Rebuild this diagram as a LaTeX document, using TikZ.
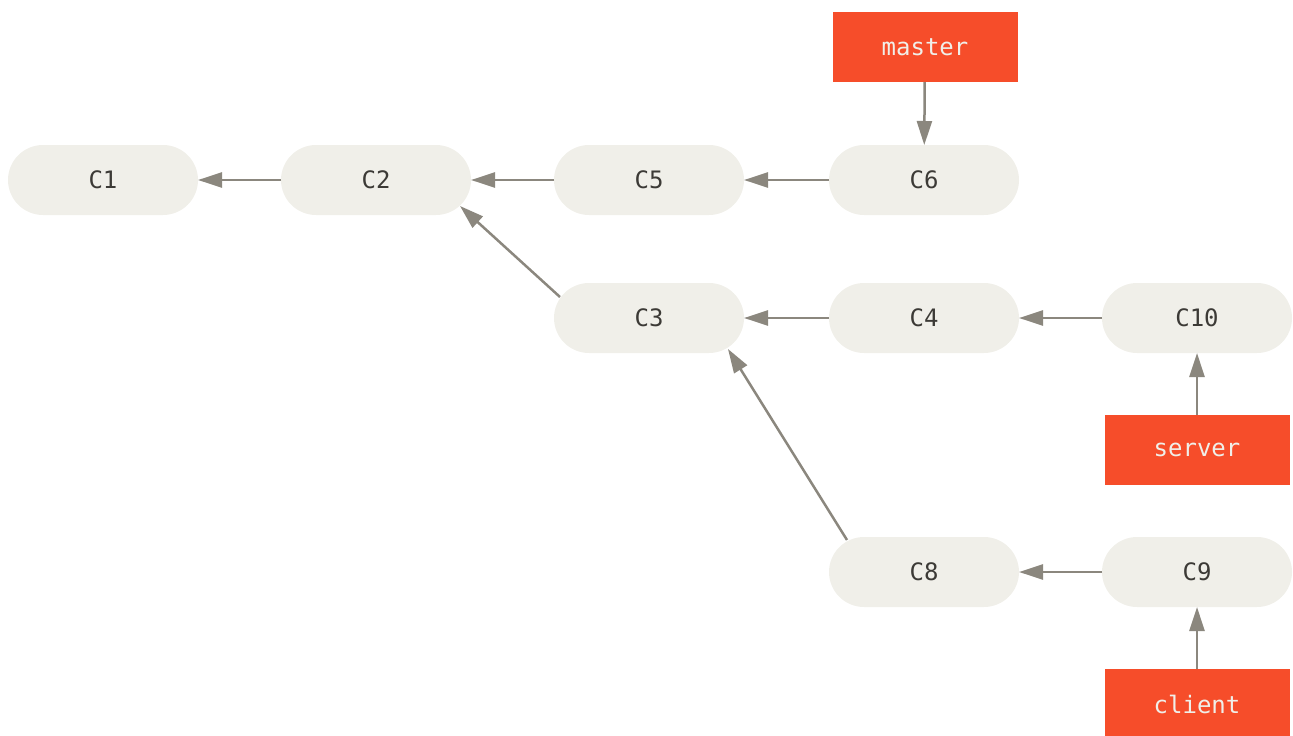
\documentclass[tikz,border=0pt]{standalone}
\usepackage{fontspec}
\setmonofont{DejaVu Sans Mono}
\usetikzlibrary{arrows.meta}
\definecolor{commitfill}{HTML}{F0EFE9}
\definecolor{committext}{HTML}{3C3A36}
\definecolor{reffill}{HTML}{F64D2A}
\definecolor{reftext}{HTML}{F0EFE9}
\definecolor{arrowgray}{HTML}{8B877E}
\tikzset{
  commit/.style={rectangle, rounded corners=35pt, fill=commitfill, text=committext,
    minimum width=190pt, minimum height=70pt, inner sep=0pt, outer sep=0pt,
    font=\ttfamily\fontsize{24}{28}\selectfont},
  branchref/.style={rectangle, fill=reffill, text=reftext,
    minimum width=185pt, minimum height=70pt, inner sep=0pt, outer sep=0pt,
    font=\ttfamily\fontsize{24}{28}\selectfont},
  arr/.style={draw=arrowgray, line width=2.5pt, -{Triangle[length=24pt,width=15pt]}}
}
\begin{document}
\begin{tikzpicture}[x=1pt,y=-1pt]
\useasboundingbox (0,0) rectangle (1293,736);
\node[commit] (c1) at (103,180) {C1};
\node[commit] (c2) at (376,180) {C2};
\node[commit] (c5) at (649,180) {C5};
\node[commit] (c6) at (924,180) {C6};
\node[commit] (c3) at (649,318) {C3};
\node[commit] (c4) at (924,318) {C4};
\node[commit] (c10) at (1197,318) {C10};
\node[commit] (c8) at (924,572) {C8};
\node[commit] (c9) at (1197,572) {C9};
\node[branchref] (master) at (925,47) {master};
\node[branchref] (server) at (1197,450) {server};
\node[branchref] (client) at (1197,704) {client};
\draw[arr] (c2) -- (c1);
\draw[arr] (c5) -- (c2);
\draw[arr] (c6) -- (c5);
\draw[arr] (c4) -- (c3);
\draw[arr] (c10) -- (c4);
\draw[arr] (c9) -- (c8);
\draw[arr] ([shift={(-89,-21)}]c3.center) -- ([shift={(84,26)}]c2.center);
\draw[arr] ([shift={(-77,-32)}]c8.center) -- ([shift={(79,31)}]c3.center);
\draw[arr] (master) -- (c6);
\draw[arr] (server) -- (c10);
\draw[arr] (client) -- (c9);
\end{tikzpicture}
\end{document}
